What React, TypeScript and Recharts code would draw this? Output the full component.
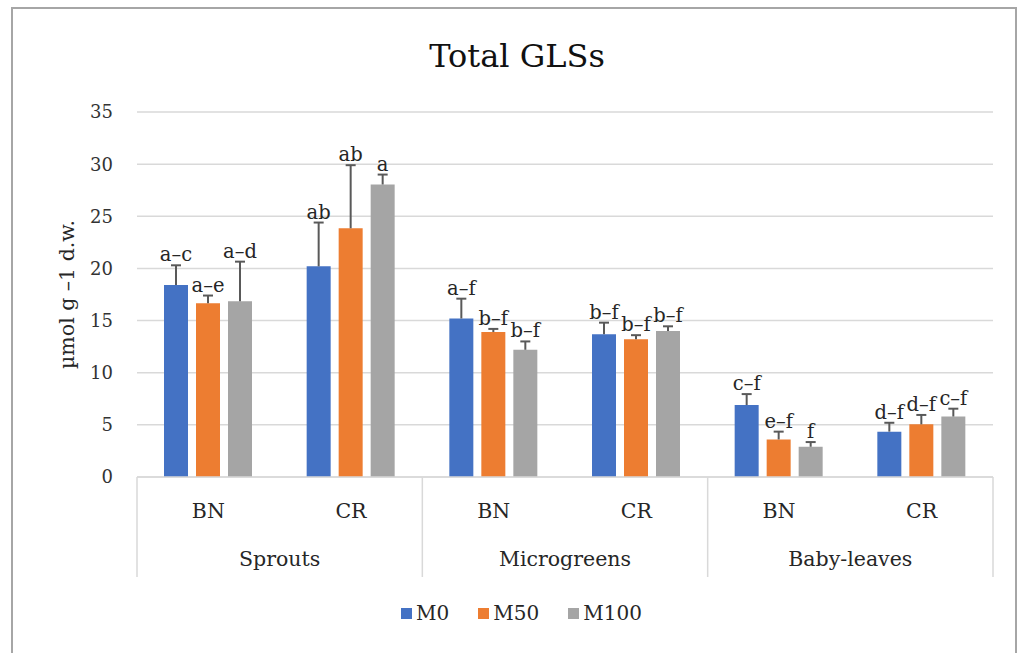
import React from 'react';
import { BarChart, Bar, XAxis, YAxis, CartesianGrid, Legend, LabelList, Label } from 'recharts';

// Growth stages and genotypes (two-level category axis)
const stages = ['Sprouts', 'Sprouts', 'Microgreens', 'Microgreens', 'Baby-leaves', 'Baby-leaves'];
const genotypes = ['BN', 'CR', 'BN', 'CR', 'BN', 'CR'];

// Total GLSs (µmol g−1 d.w.) per treatment, with upper error and significance letters
const m0 = [18.4, 20.2, 15.2, 13.7, 6.9, 4.35];
const m0Err = [1.9, 4.2, 1.9, 1.1, 1.05, 0.85];
const m0Letters = ['a–c', 'ab', 'a–f', 'b–f', 'c–f', 'd–f'];

const m50 = [16.65, 23.85, 13.9, 13.2, 3.6, 5.05];
const m50Err = [0.75, 6.05, 0.3, 0.4, 0.75, 0.9];
const m50Letters = ['a–e', 'ab', 'b–f', 'b–f', 'e–f', 'd–f'];

const m100 = [16.85, 28.05, 12.2, 14.0, 2.9, 5.8];
const m100Err = [3.8, 0.95, 0.8, 0.45, 0.45, 0.75];
const m100Letters = ['a–d', 'a', 'b–f', 'b–f', 'f', 'c–f'];

const yTicks = [0, 5, 10, 15, 20, 25, 30, 35];

const series = [
  { key: 'M0', values: m0, errs: m0Err, letters: m0Letters, color: '#4472C4' },
  { key: 'M50', values: m50, errs: m50Err, letters: m50Letters, color: '#ED7D31' },
  { key: 'M100', values: m100, errs: m100Err, letters: m100Letters, color: '#A5A5A5' },
];

const data = genotypes.map((g, i) => ({
  genotype: g,
  stage: stages[i],
  M0: m0[i],
  M50: m50[i],
  M100: m100[i],
  M0L: m0Letters[i],
  M50L: m50Letters[i],
  M100L: m100Letters[i],
}));

const W = 1022;
const H = 653;
const LEFT = 137;
const RIGHT = 29;
const FONT = '"DejaVu Serif", serif';
const TEXT = '#262626';
const LINE = '#d9d9d9';
const BAND = (W - LEFT - RIGHT) / data.length;

// Upper whisker plus significance letter above each bar
const makeLabel = (values: number[], errs: number[]) => (props: any) => {
  const { x, y, width, height, index, value } = props;
  const v = values[index];
  if (!v) return null;
  const perUnit = Number(height) / v;
  const top = Number(y) - errs[index] * perUnit;
  const cx = Number(x) + Number(width) / 2;
  return (
    <g>
      <line x1={cx} y1={Number(y)} x2={cx} y2={top} stroke="#595959" strokeWidth={2} />
      <line x1={cx - 5} y1={top} x2={cx + 5} y2={top} stroke="#595959" strokeWidth={2} />
      <text x={cx} y={top - 4} textAnchor="middle" fontFamily={FONT} fontSize={19.5} fill={TEXT}>
        {value}
      </text>
    </g>
  );
};

// Genotype labels with stage labels and stage separators beneath
const CategoryTick = (props: any) => {
  const { x, y, payload } = props;
  const i = payload.index;
  const cx = Number(x);
  const top = Number(y);
  const depth = 100;
  return (
    <g>
      {i % 2 === 0 && (
        <>
          <line x1={cx - BAND / 2} y1={top} x2={cx - BAND / 2} y2={top + depth} stroke={LINE} strokeWidth={1.5} />
          <text x={cx + BAND / 2} y={top + 89} textAnchor="middle" fontFamily={FONT} fontSize={20.5} fill={TEXT}>
            {stages[i]}
          </text>
        </>
      )}
      {i === data.length - 1 && (
        <line x1={cx + BAND / 2} y1={top} x2={cx + BAND / 2} y2={top + depth} stroke={LINE} strokeWidth={1.5} />
      )}
      <text x={cx} y={top + 41} textAnchor="middle" fontFamily={FONT} fontSize={20.5} fill={TEXT}>
        {payload.value}
      </text>
    </g>
  );
};

const LegendContent = () => (
  <div
    style={{
      height: 40,
      display: 'flex',
      alignItems: 'center',
      justifyContent: 'center',
      paddingLeft: 50,
      fontFamily: FONT,
      fontSize: 20,
      color: TEXT,
    }}
  >
    {series.map((s, i) => (
      <div key={s.key} style={{ display: 'flex', alignItems: 'center', marginLeft: i === 0 ? 0 : 29 }}>
        <span style={{ width: 11, height: 11, background: s.color, display: 'inline-block', marginRight: 4 }} />
        <span>{s.key}</span>
      </div>
    ))}
  </div>
);

export default function App() {
  return (
    <div style={{ position: 'absolute', left: 0, top: 0, width: W, height: H, overflow: 'hidden', background: '#fff' }}>
      <div
        style={{
          position: 'absolute',
          left: 11,
          top: 7,
          width: 1006,
          height: 700,
          border: '2px solid #a6a6a6',
          boxSizing: 'border-box',
        }}
      />
      <svg style={{ position: 'absolute', left: 0, top: 0 }} width={W} height={100}>
        <text x={517} y={67} textAnchor="middle" fontFamily={FONT} fontSize={32} fill="#111">
          Total GLSs
        </text>
      </svg>
      <div style={{ position: 'absolute', left: 0, top: 0 }}>
        <BarChart
          width={W}
          height={H}
          data={data}
          margin={{ top: 112, right: RIGHT, bottom: 20, left: 0 }}
          barSize={24}
          barGap={8}
        >
          <CartesianGrid vertical={false} stroke={LINE} strokeWidth={1.5} />
          <XAxis
            dataKey="genotype"
            height={116}
            tickSize={0}
            tickMargin={0}
            interval={0}
            axisLine={{ stroke: LINE, strokeWidth: 1.5 }}
            tickLine={false}
            tick={<CategoryTick />}
          />
          <YAxis
            width={LEFT}
            domain={[0, 35]}
            ticks={yTicks}
            interval={0}
            axisLine={false}
            tickLine={false}
            tickSize={0}
            tickMargin={24}
            tick={{ fontFamily: FONT, fontSize: 18, fill: '#333' }}
          >
            <Label
              content={(p: any) => {
                const vb = p.viewBox || {};
                const cy = Number(vb.y) + Number(vb.height) / 2;
                return (
                  <text
                    x={0}
                    y={0}
                    transform={`translate(74, ${cy}) rotate(-90)`}
                    textAnchor="middle"
                    fontFamily={FONT}
                    fontSize={20.5}
                    fill={TEXT}
                  >
                    µmol g –1 d.w.
                  </text>
                );
              }}
            />
          </YAxis>
          <Legend verticalAlign="bottom" content={<LegendContent />} />
          {series.map((s) => (
            <Bar key={s.key} dataKey={s.key} fill={s.color} isAnimationActive={false}>
              <LabelList dataKey={`${s.key}L`} content={makeLabel(s.values, s.errs)} />
            </Bar>
          ))}
        </BarChart>
      </div>
    </div>
  );
}
